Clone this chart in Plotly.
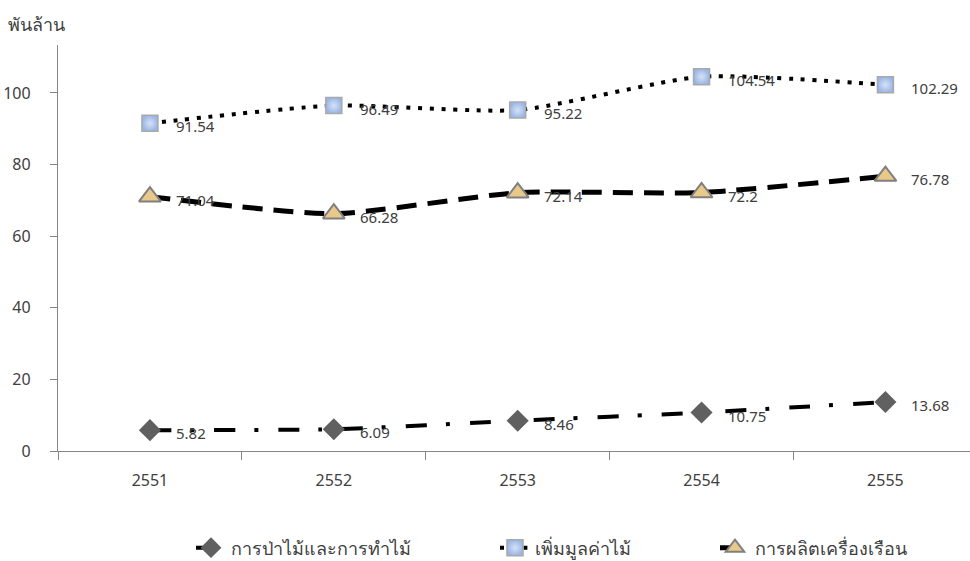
import plotly.graph_objects as go

# Years (Thai Buddhist calendar) and values in billions of baht
years = ["2551", "2552", "2553", "2554", "2555"]
forestry = [5.82, 6.09, 8.46, 10.75, 13.68]
wood_value_added = [91.54, 96.49, 95.22, 104.54, 102.29]
furniture = [71.04, 66.28, 72.14, 72.2, 76.78]

series_names = ["การป่าไม้และการทำไม้", "เพิ่มมูลค่าไม้", "การผลิตเครื่องเรือน"]
y_ticks = [0, 20, 40, 60, 80, 100]
y_unit = "พันล้าน"

FONT = "Noto Sans, DejaVu Sans, sans-serif"
TEXT = "#404040"
AXIS = "#868686"

fig = go.Figure()

fig.add_trace(go.Scatter(
    x=years, y=forestry, name=series_names[0], mode="lines+markers", legend="legend",
    line=dict(color="black", width=4, dash="21px,19px,4px,20px", shape="spline", smoothing=0.6),
    marker=dict(symbol="diamond", size=17, color="#606060", line=dict(width=0)),
))
fig.add_trace(go.Scatter(
    x=years, y=wood_value_added, name=series_names[1], mode="lines+markers", legend="legend2",
    line=dict(color="black", width=4, dash="4px,7.7px", shape="spline", smoothing=0.6),
    marker=dict(symbol="square", size=16, color="#9ab6e6",
                gradient=dict(type="radial", color="#d6e2f6"),
                line=dict(color="#a9a9a9", width=1.5)),
))
fig.add_trace(go.Scatter(
    x=years, y=furniture, name=series_names[2], mode="lines+markers", legend="legend3",
    line=dict(color="black", width=5, dash="20px,11px", shape="spline", smoothing=0.6),
    marker=dict(symbol="triangle-up", size=19, color="#e8c98a",
                line=dict(color="#7f7f7f", width=2)),
))

# Value labels to the right of each point (category axis uses index positions)
for values in (forestry, wood_value_added, furniture):
    for i, v in enumerate(values):
        fig.add_annotation(
            x=i, y=v, text=f"{v:g}", showarrow=False,
            xanchor="left", yanchor="middle", xshift=24, yshift=-3,
            font=dict(family=FONT, size=15, color=TEXT),
        )

# Unit label above the value axis
fig.add_annotation(
    xref="paper", yref="paper", x=-52 / 912, y=1 + (45 - 24) / 406,
    text=y_unit, showarrow=False, xanchor="left", yanchor="middle",
    font=dict(family=FONT, size=18, color=TEXT),
)

legend_common = dict(
    orientation="h", xanchor="left", yref="container", xref="container",
    y=1 - 548 / 561, yanchor="middle",
    font=dict(family=FONT, size=18, color=TEXT), bgcolor="rgba(0,0,0,0)",
)

fig.update_layout(
    width=970, height=561,
    margin=dict(l=58, r=0, t=45, b=110),
    paper_bgcolor="white", plot_bgcolor="white",
    font=dict(family=FONT, size=16, color=TEXT),
    showlegend=True,
    legend=dict(x=191 / 970, **legend_common),
    legend2=dict(x=495 / 970, **legend_common),
    legend3=dict(x=715 / 970, **legend_common),
)

fig.update_xaxes(
    type="category", range=[-0.5, 4.46], automargin=False,
    showline=True, linecolor=AXIS, linewidth=1.3,
    ticks="outside", tickson="boundaries", ticklen=8, tickcolor=AXIS, tickwidth=1.3,
    showgrid=False, zeroline=False, ticklabelstandoff=15,
    tickfont=dict(family=FONT, size=16, color=TEXT),
)
fig.update_yaxes(
    range=[0, 113.4], tickvals=y_ticks, automargin=False,
    showline=True, linecolor=AXIS, linewidth=1.3,
    ticks="outside", ticklen=7, tickcolor=AXIS, tickwidth=1.3,
    showgrid=False, zeroline=False, ticklabelstandoff=16,
    tickfont=dict(family=FONT, size=16, color=TEXT),
)

fig.write_html("out.html")
